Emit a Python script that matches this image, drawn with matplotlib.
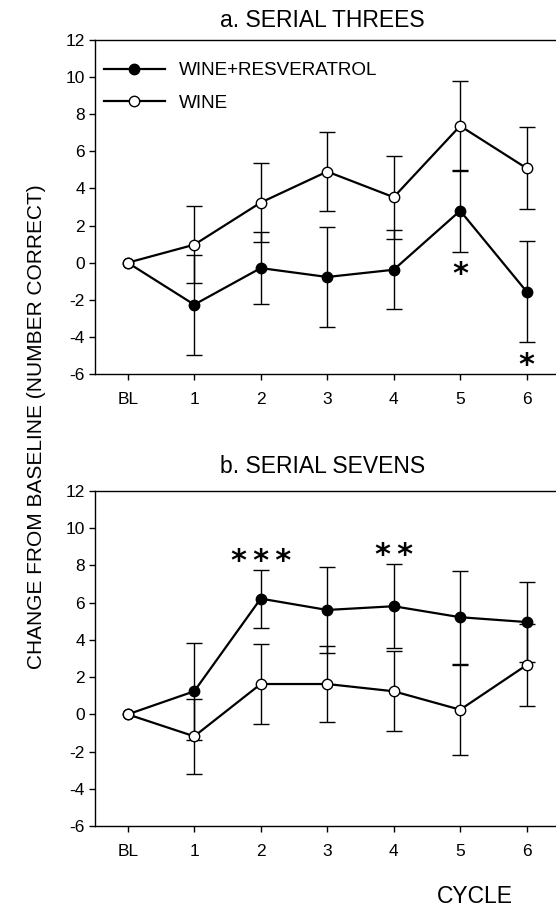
import numpy as np
import matplotlib
matplotlib.use("Agg")
import matplotlib.pyplot as plt

plt.rcParams['font.family'] = ['Liberation Sans', 'DejaVu Sans']
plt.rcParams['axes.unicode_minus'] = False

cycles = ['BL', '1', '2', '3', '4', '5', '6']

threes_wr = [0, -2.26, -0.29, -0.77, -0.38, 2.80, -1.56]
threes_wr_se = [0, 2.70, 1.96, 2.67, 2.14, 2.20, 2.73]
threes_w = [0, 0.97, 3.24, 4.91, 3.53, 7.37, 5.09]
threes_w_se = [0, 2.06, 2.15, 2.13, 2.24, 2.43, 2.22]

sevens_wr = [0, 1.24, 6.22, 5.61, 5.81, 5.22, 4.96]
sevens_wr_se = [0, 2.61, 1.56, 2.29, 2.26, 2.50, 2.14]
sevens_w = [0, -1.18, 1.63, 1.63, 1.24, 0.25, 2.65]
sevens_w_se = [0, 2.02, 2.15, 2.04, 2.14, 2.42, 2.20]

# significance markers: (cycle index, label)
sig_threes = [(5, '*'), (6, '*')]
sig_sevens = [(2, '*\u2009*\u2009*'), (4, '*\u2009*')]

yticks = list(range(-6, 13, 2))

fig = plt.figure(figsize=(5.56, 9.07), dpi=100)
ax1 = fig.add_axes([0.170, 0.5876, 0.837, 0.3683])
ax2 = fig.add_axes([0.170, 0.0893, 0.837, 0.3693])

x = np.arange(len(cycles))


def panel(ax, wr, wr_se, w, w_se):
    ax.errorbar(x[1:], wr[1:], yerr=wr_se[1:], fmt='none', ecolor='black',
                elinewidth=1.0, capsize=6, capthick=1.0, zorder=2)
    ax.errorbar(x[1:], w[1:], yerr=w_se[1:], fmt='none', ecolor='black',
                elinewidth=1.0, capsize=6, capthick=1.0, zorder=2)
    l1, = ax.plot(x, wr, '-o', color='black', lw=1.6, ms=7.5,
                  mfc='black', mec='black', mew=1.0, zorder=3,
                  label='WINE+RESVERATROL')
    l2, = ax.plot(x, w, '-o', color='black', lw=1.6, ms=7.5,
                  mfc='white', mec='black', mew=1.0, zorder=3,
                  label='WINE')
    ax.set_xlim(-0.5, 6.5)
    ax.set_ylim(-6, 12)
    ax.set_yticks(yticks)
    ax.set_xticks(x)
    ax.set_xticklabels(cycles)
    ax.tick_params(axis='both', direction='out', length=4, width=1.0,
                   labelsize=12.5, color='black')
    ax.tick_params(axis='y', pad=3)
    ax.tick_params(axis='x', pad=9)
    for s in ['left', 'top', 'bottom']:
        ax.spines[s].set_linewidth(1.0)
    ax.spines['right'].set_visible(False)
    return l1, l2


l1, l2 = panel(ax1, threes_wr, threes_wr_se, threes_w, threes_w_se)
panel(ax2, sevens_wr, sevens_wr_se, sevens_w, sevens_w_se)

star_font = ['DejaVu Sans']
for i, lab in sig_threes:
    ax1.text(x[i], threes_wr[i] - threes_wr_se[i] - 1.25, lab, ha='center',
             va='center', fontsize=22, fontweight='bold', family=star_font)
for i, lab in sig_sevens:
    ax2.text(x[i], sevens_wr[i] + sevens_wr_se[i] + 0.45, lab, ha='center',
             va='center', fontsize=22, fontweight='bold', family=star_font)

ax1.legend(handles=[l1, l2], loc='upper left', bbox_to_anchor=(-0.016, 0.985),
           frameon=False, fontsize=13.6, handlelength=3.2, handletextpad=0.75,
           labelspacing=0.82, borderaxespad=0.5, numpoints=1)

fig.text(322.5 / 556, 1 - 27 / 907, 'a. SERIAL THREES', ha='center',
         va='baseline', fontsize=16.5)
fig.text(322.5 / 556, 1 - 473 / 907, 'b. SERIAL SEVENS', ha='center',
         va='baseline', fontsize=16.5)
fig.text(475 / 556, 1 - 903 / 907, 'CYCLE', ha='center', va='baseline',
         fontsize=16.5)
fig.text(37 / 556, 1 - 427 / 907, 'CHANGE FROM BASELINE (NUMBER CORRECT)',
         rotation=90, ha='center', va='center', fontsize=15)

fig.savefig('out.png', dpi=100)
